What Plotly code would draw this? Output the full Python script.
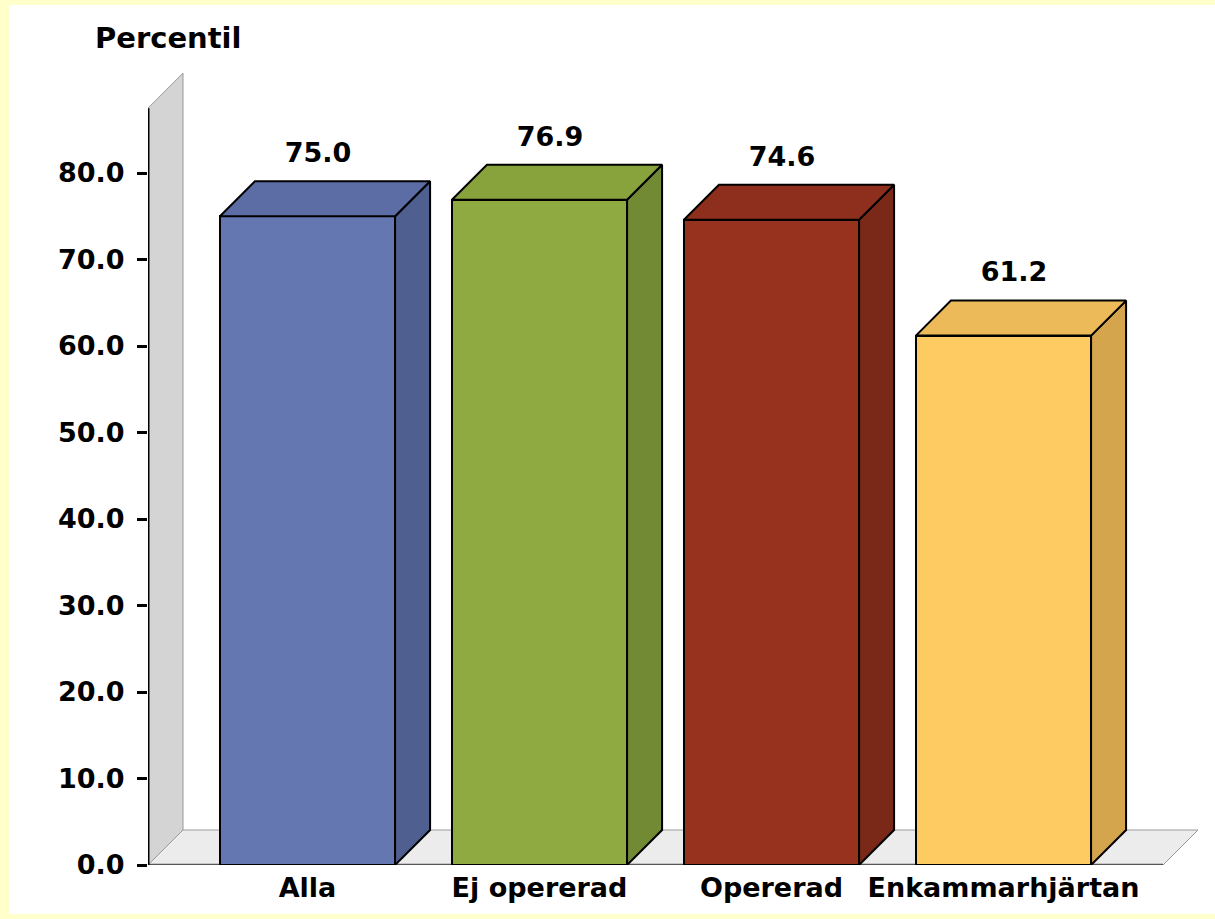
import plotly.graph_objects as go

categories = ["Alla", "Ej opererad", "Opererad", "Enkammarhjärtan"]
values = [75.0, 76.9, 74.6, 61.2]
front_colors = ["#6577B0", "#8FAA40", "#97321E", "#FECB62"]
top_colors = ["#5C6DA6", "#88A23C", "#8E2E1C", "#EDBA5A"]
side_colors = ["#4F5F90", "#728A33", "#7A2817", "#D5A54E"]
y_ticks = [0, 10, 20, 30, 40, 50, 60, 70, 80]
y_title = "Percentil"

FONT = "DejaVu Sans"
W, H = 1215, 919
ML, MR, MT, MB = 148, 15, 60, 54
plot_w = W - ML - MR
plot_h = H - MT - MB
px_per_cat = 232.0
px_per_unit = 8.65
x0 = -(307.5 - ML) / px_per_cat
x1 = x0 + plot_w / px_per_cat
y1 = plot_h / px_per_unit
dx = 35 / px_per_cat
dy = 35 / px_per_unit
bw = 0.755
wall_top = 87.5
x_end = len(categories) - 1 + (-x0)

fig = go.Figure()
xs = list(range(len(categories)))

fig.add_trace(go.Bar(
    x=xs, y=values, width=bw,
    marker=dict(color=front_colors, line=dict(color="black", width=2)),
    showlegend=False, hoverinfo="skip"))

for i, v in enumerate(values):
    xl, xr = i - bw / 2, i + bw / 2
    fig.add_trace(go.Scatter(
        x=[xr, xr, xr + dx, xr + dx, xr], y=[0, v, v + dy, dy, 0],
        mode="lines", fill="toself", fillcolor=side_colors[i],
        line=dict(color="black", width=2), showlegend=False, hoverinfo="skip"))
    fig.add_trace(go.Scatter(
        x=[xl, xr, xr + dx, xl + dx, xl], y=[v, v, v + dy, v + dy, v],
        mode="lines", fill="toself", fillcolor=top_colors[i],
        line=dict(color="black", width=2), showlegend=False, hoverinfo="skip"))

fig.add_trace(go.Scatter(
    x=[i + 0.045 for i in xs], y=[v + dy + 3.0 for v in values],
    mode="text", text=[f"{v:.1f}" for v in values], textposition="middle center",
    textfont=dict(family=FONT, size=27, color="black", weight="bold"),
    showlegend=False, hoverinfo="skip", cliponaxis=False))

shapes = [
    # white panel
    dict(type="rect", xref="paper", yref="paper", layer="below",
         x0=(9 - ML) / plot_w, x1=1.05, y0=(H - MB - 914) / plot_h, y1=(H - MB - 5) / plot_h,
         fillcolor="white", line=dict(width=0)),
    # back wall
    dict(type="path", xref="x", yref="y", layer="below",
         path=f"M {x0},0 L {x0},{wall_top} L {x0+dx},{wall_top+dy} L {x0+dx},{dy} Z",
         fillcolor="#D4D4D4", line=dict(color="#9A9A9A", width=1)),
    # floor
    dict(type="path", xref="x", yref="y", layer="below",
         path=f"M {x0},0 L {x_end},0 L {x_end+dx},{dy} L {x0+dx},{dy} Z",
         fillcolor="#ECECEC", line=dict(color="#9A9A9A", width=1)),
    # front floor edge
    dict(type="line", xref="x", yref="y", layer="below",
         x0=x0, x1=x_end, y0=0, y1=0, line=dict(color="#555555", width=2.5)),
    # y axis line
    dict(type="line", xref="x", yref="y", layer="above",
         x0=x0, x1=x0, y0=0, y1=wall_top, line=dict(color="black", width=3)),
]

fig.update_layout(
    width=W, height=H,
    margin=dict(l=ML, r=MR, t=MT, b=MB, pad=0),
    paper_bgcolor="#FFFFCC", plot_bgcolor="white",
    barmode="overlay", bargap=0,
    shapes=shapes,
    font=dict(family=FONT, color="black"),
    xaxis=dict(range=[x0, x1], tickvals=xs, ticktext=categories, showgrid=False,
               zeroline=False, showline=False, ticks="", fixedrange=True,
               ticklabelstandoff=4,
               tickfont=dict(family=FONT, size=27, color="black", weight="bold")),
    yaxis=dict(range=[0, y1], tickvals=y_ticks, tickformat=".1f", showgrid=False,
               zeroline=False, showline=False, ticks="outside", ticklen=10,
               tickwidth=2.5, tickcolor="black", ticklabelstandoff=7,
               fixedrange=True,
               tickfont=dict(family=FONT, size=27, color="black", weight="bold")),
    annotations=[dict(text=y_title, xref="paper", yref="paper",
                      x=(167.5 - ML) / plot_w, y=(H - MB - 38) / plot_h,
                      xanchor="center", yanchor="middle", showarrow=False,
                      font=dict(family=FONT, size=29, color="black", weight="bold"))],
)

fig.write_html(
    "out.html",
    config={"displayModeBar": False},
    post_script="document.body.style.margin='0';document.body.style.background='#FFFFCC';",
)
